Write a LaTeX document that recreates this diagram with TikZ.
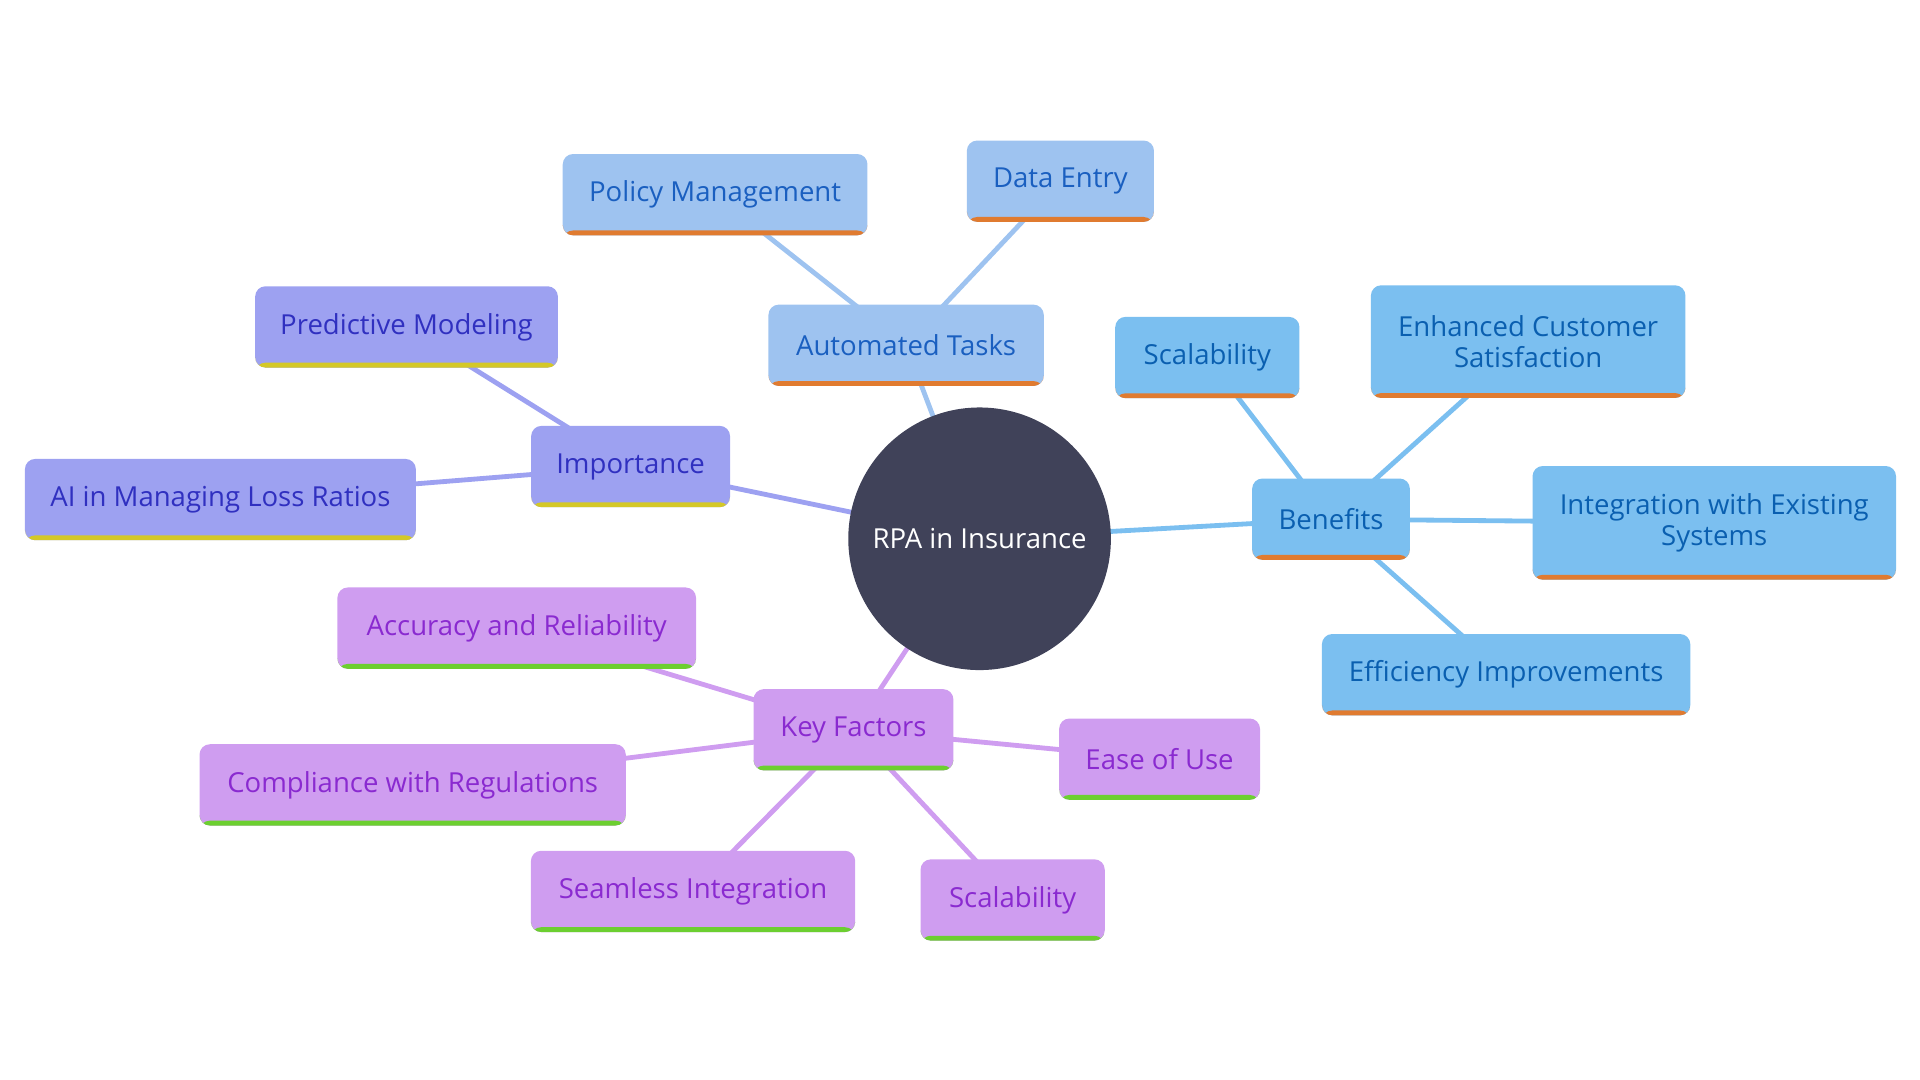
\documentclass[tikz,border=0pt]{standalone}
\usepackage{fontspec}
\setmainfont{Open Sans}
\usetikzlibrary{backgrounds}
\definecolor{hubfill}{HTML}{404259}
\definecolor{taskfill}{HTML}{9EC3F0}
\definecolor{tasktext}{HTML}{1A5FC0}
\definecolor{impfill}{HTML}{9DA1F1}
\definecolor{imptext}{HTML}{3030C0}
\definecolor{impbar}{HTML}{D4C827}
\definecolor{benfill}{HTML}{7BBFF0}
\definecolor{bentext}{HTML}{0A5FB0}
\definecolor{orangebar}{HTML}{E07B30}
\definecolor{keyfill}{HTML}{CF9DF0}
\definecolor{keytext}{HTML}{8A2AD0}
\definecolor{keybar}{HTML}{6CCF30}

\begin{document}
\begin{tikzpicture}[
    x=0.0125cm, y=-0.0125cm,
    % Define styles
    box/.style={rectangle, rounded corners=3pt, minimum height=0.83cm, align=center, font=\fontsize{8}{9}\selectfont, inner sep=2pt},
    bar/.style={path picture={\fill[#1] ([yshift=0.05cm]path picture bounding box.south west) rectangle (path picture bounding box.south east);}},
    task/.style={box, fill=taskfill, text=tasktext, bar=orangebar},
    imp/.style={box, fill=impfill, text=imptext, bar=impbar},
    ben/.style={box, fill=benfill, text=bentext, bar=orangebar},
    key/.style={box, fill=keyfill, text=keytext, bar=keybar},
    hub/.style={circle, fill=hubfill, text=white, minimum size=2.68cm, font=\fontsize{8}{9}\selectfont},
    link/.style={line width=1.4pt},
    ]
    \useasboundingbox (0,0) rectangle (1568,882);

    % Centre
    \node[hub] (rpa) at (800,440) {RPA in Insurance};

    % Automated tasks
    \node[task, minimum width=2.81cm] (tasks) at (740,282) {Automated Tasks};
    \node[task, minimum width=3.11cm] (policy) at (584,159) {Policy Management};
    \node[task, minimum width=1.91cm] (entry) at (866,148) {Data Entry};

    % Importance
    \node[imp, minimum width=2.03cm] (importance) at (515,381) {Importance};
    \node[imp, minimum width=3.09cm] (predictive) at (332,267) {Predictive Modeling};
    \node[imp, minimum width=3.99cm] (lossratio) at (180,408) {AI in Managing Loss Ratios};

    % Benefits
    \node[ben, minimum width=1.61cm] (benefits) at (1087,424) {Benefits};
    \node[ben, minimum width=1.88cm] (scaleben) at (986,292) {Scalability};
    \node[ben, minimum width=3.21cm, minimum height=1.15cm] (satisfaction) at (1248,279) {Enhanced Customer\\Satisfaction};
    \node[ben, minimum width=3.71cm, minimum height=1.16cm] (integration) at (1400,427) {Integration with Existing\\Systems};
    \node[ben, minimum width=3.76cm] (efficiency) at (1230,551) {Efficiency Improvements};

    % Key factors
    \node[key, minimum width=2.04cm] (factors) at (697,596) {Key Factors};
    \node[key, minimum width=3.66cm] (accuracy) at (422,513) {Accuracy and Reliability};
    \node[key, minimum width=4.35cm] (compliance) at (337,641) {Compliance with Regulations};
    \node[key, minimum width=3.31cm] (seamless) at (566,728) {Seamless Integration};
    \node[key, minimum width=1.88cm] (scalekey) at (827,735) {Scalability};
    \node[key, minimum width=2.05cm] (ease) at (947,620) {Ease of Use};

    % Links
    \begin{scope}[on background layer]
        \draw[link, taskfill] (rpa.center) -- (tasks.center);
        \draw[link, taskfill] (tasks.center) -- (policy.center);
        \draw[link, taskfill] (tasks.center) -- (entry.center);
        \draw[link, impfill] (rpa.center) -- (importance.center);
        \draw[link, impfill] (importance.center) -- (predictive.center);
        \draw[link, impfill] (importance.center) -- (lossratio.center);
        \draw[link, benfill] (rpa.center) -- (benefits.center);
        \draw[link, benfill] (benefits.center) -- (scaleben.center);
        \draw[link, benfill] (benefits.center) -- (satisfaction.center);
        \draw[link, benfill] (benefits.center) -- (integration.center);
        \draw[link, benfill] (benefits.center) -- (efficiency.center);
        \draw[link, keyfill] (rpa.center) -- (factors.center);
        \draw[link, keyfill] (factors.center) -- (accuracy.center);
        \draw[link, keyfill] (factors.center) -- (compliance.center);
        \draw[link, keyfill] (factors.center) -- (seamless.center);
        \draw[link, keyfill] (factors.center) -- (scalekey.center);
        \draw[link, keyfill] (factors.center) -- (ease.center);
    \end{scope}

\end{tikzpicture}
\end{document}
